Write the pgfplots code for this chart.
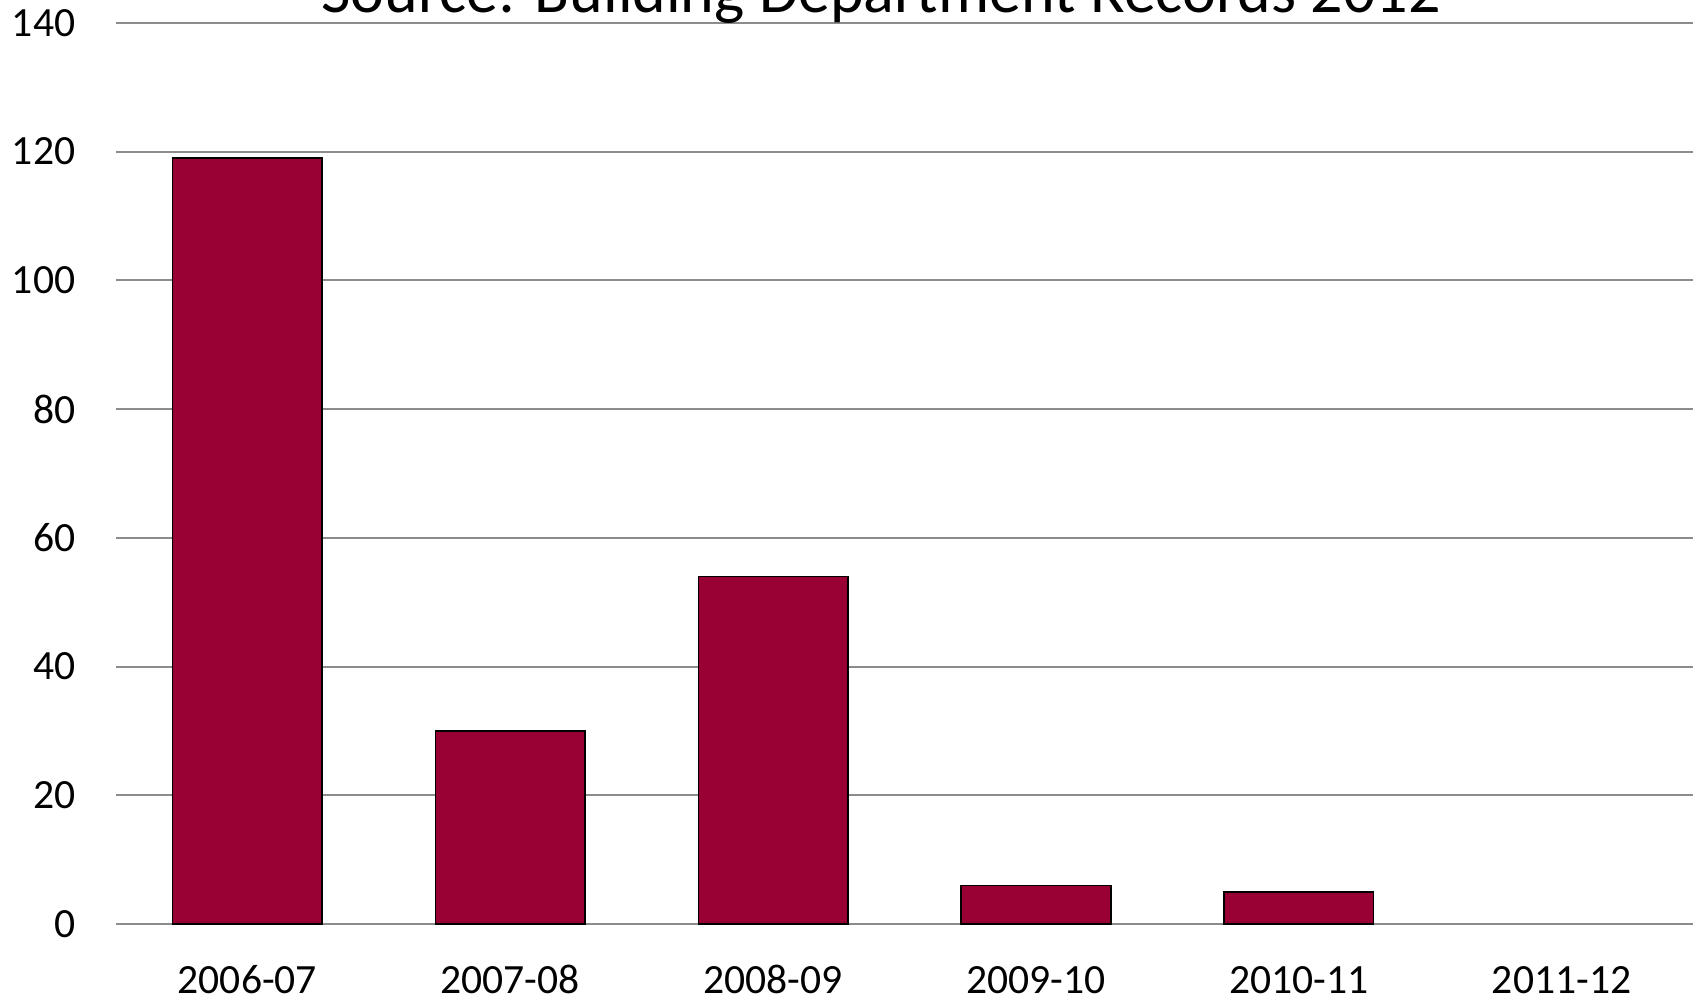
\documentclass[border=0pt]{standalone}
\usepackage{pgfplots}
\pgfplotsset{compat=1.18}
\usepackage{fontspec}
\setmainfont{Carlito}
\definecolor{barred}{HTML}{990033}
\definecolor{gridgray}{HTML}{8C8C8C}
\begin{document}
\begin{tikzpicture}
\begin{axis}[
  at={(0,0)}, anchor=south west,
  scale only axis, width=394.25pt, height=225.3pt,
  xmin=-0.5, xmax=5.5, ymin=0, ymax=140,
  ytick={0,20,...,140},
  xtick={0,1,2,3,4,5},
  xticklabels={2006-07,2007-08,2008-09,2009-10,2010-11,2011-12},
  major tick length=0pt,
  axis x line*=bottom, axis y line*=left,
  x axis line style={gridgray, line width=0.5pt},
  y axis line style={draw=none},
  ymajorgrids, grid style={gridgray, line width=0.5pt},
  /pgf/number format/assume math mode=true,
  tick label style={font=\fontsize{10.4}{12}\selectfont},
  y tick label style={anchor=east, inner sep=0pt, xshift=-10pt},
  x tick label style={anchor=base, inner sep=0pt, yshift=-17.25pt},
  clip=false,
]
\addplot[ybar, bar width=0.569, fill=barred, draw=black, line width=0.4pt]
  coordinates {(0,119) (1,30) (2,54) (3,6) (4,5)};
\end{axis}
\node[anchor=base, font=\fontsize{16}{19}\selectfont, inner sep=0pt] at (191.25pt,227.75pt) {Source: Building Department Records 2012};
\pgfresetboundingbox
\path[use as bounding box] (-29pt,-18.25pt) rectangle (395.5pt,231pt);
\end{tikzpicture}
\end{document}
